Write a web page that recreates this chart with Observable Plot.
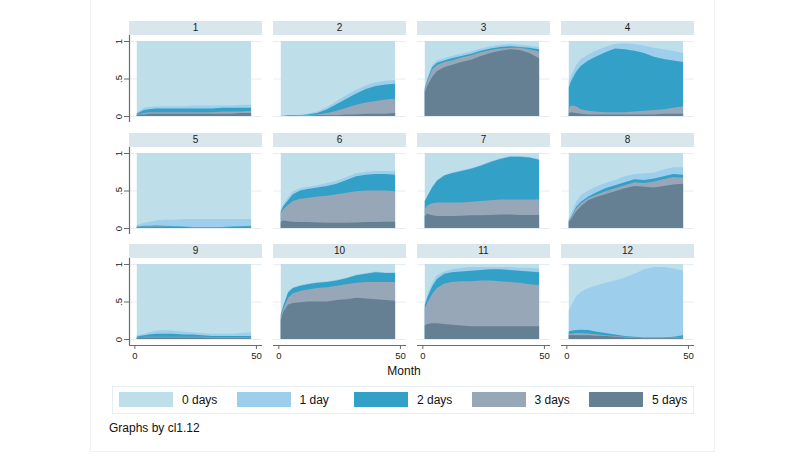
<!DOCTYPE html>
<html><head><meta charset="utf-8">
<script src="https://cdn.jsdelivr.net/npm/d3@7"></script>
<script src="https://cdn.jsdelivr.net/npm/@observablehq/plot@0.6"></script>
<style>
body{margin:0;background:#fff;font-family:"Liberation Sans",Arial,sans-serif;}
#root{position:relative;width:808px;height:455px;overflow:hidden;background:#fff;}
.strip{position:absolute;background:#d9e6ec;color:#1a1a1a;font-size:10px;text-align:center;line-height:14px;height:14px;width:133px;}
.panel{position:absolute;}
.txt{position:absolute;font-size:12px;color:#111;white-space:nowrap;}
.sw{position:absolute;width:54px;height:15px;}
</style></head><body><div id="root"></div>
<script>
// ---- data ----
const months = [1,2,4,6,9,12,16,20,24,28,32,36,40,44,48];
const panelLabels = ["1","2","3","4","5","6","7","8","9","10","11","12"];
const seriesNames = ["0 days","1 day","2 days","3 days","5 days"];
const seriesColors = ["#bedfe9","#9dcfec","#33a0c8","#97a7b7","#657f93"];
const xTicks = [0, 50];
const yTicks = [0, 0.5, 1];
const yTickLabels = ["0", ".5", "1"];
const xTitle = "Month";
const byNote = "Graphs by cl1.12";

// cumulative shares (top edge of each band), one row per panel, values at `months`
const top0 = [1,1,1,1,1,1,1,1,1,1,1,1,1,1,1];
const top1 = [
  [0.04,0.07,0.11,0.12,0.13,0.13,0.13,0.13,0.14,0.14,0.14,0.14,0.14,0.15,0.15],
  [0.01,0.01,0.01,0.01,0.02,0.03,0.06,0.12,0.20,0.28,0.35,0.41,0.45,0.47,0.48],
  [0.39,0.50,0.68,0.74,0.77,0.80,0.83,0.86,0.90,0.93,0.95,0.96,0.95,0.94,0.92],
  [0.46,0.55,0.68,0.76,0.82,0.87,0.92,0.96,0.97,0.96,0.94,0.91,0.89,0.87,0.84],
  [0.04,0.05,0.07,0.08,0.10,0.11,0.11,0.12,0.12,0.12,0.12,0.12,0.12,0.12,0.12],
  [0.25,0.32,0.41,0.49,0.53,0.55,0.57,0.60,0.63,0.68,0.73,0.75,0.76,0.76,0.76],
  [0.37,0.43,0.55,0.64,0.71,0.74,0.77,0.80,0.84,0.89,0.93,0.96,0.96,0.95,0.92],
  [0.12,0.20,0.35,0.44,0.50,0.55,0.60,0.64,0.69,0.72,0.73,0.74,0.78,0.81,0.81],
  [0.05,0.06,0.07,0.09,0.11,0.12,0.11,0.10,0.09,0.08,0.07,0.07,0.07,0.08,0.09],
  [0.33,0.45,0.64,0.69,0.72,0.74,0.76,0.77,0.79,0.82,0.86,0.88,0.90,0.89,0.89],
  [0.47,0.58,0.75,0.85,0.90,0.93,0.95,0.96,0.96,0.96,0.96,0.96,0.95,0.95,0.94],
  [0.38,0.45,0.57,0.63,0.68,0.71,0.75,0.78,0.82,0.87,0.93,0.96,0.96,0.94,0.91]
];
const top2 = [
  [0.03,0.05,0.08,0.09,0.10,0.10,0.10,0.10,0.10,0.10,0.10,0.11,0.11,0.11,0.11],
  [0.00,0.00,0.01,0.01,0.01,0.02,0.04,0.09,0.16,0.23,0.30,0.36,0.40,0.42,0.43],
  [0.37,0.48,0.65,0.71,0.74,0.77,0.80,0.83,0.87,0.90,0.92,0.93,0.92,0.91,0.89],
  [0.38,0.47,0.59,0.67,0.74,0.79,0.85,0.90,0.89,0.87,0.84,0.79,0.76,0.74,0.72],
  [0.02,0.02,0.03,0.03,0.035,0.03,0.025,0.02,0.015,0.01,0.01,0.015,0.02,0.025,0.03],
  [0.22,0.29,0.37,0.45,0.50,0.52,0.54,0.56,0.59,0.64,0.69,0.71,0.72,0.72,0.71],
  [0.36,0.42,0.54,0.63,0.70,0.73,0.76,0.79,0.83,0.88,0.92,0.95,0.95,0.94,0.91],
  [0.10,0.15,0.28,0.35,0.42,0.47,0.53,0.57,0.61,0.65,0.64,0.66,0.69,0.72,0.71],
  [0.03,0.04,0.05,0.06,0.07,0.07,0.07,0.06,0.06,0.05,0.04,0.04,0.04,0.04,0.04],
  [0.32,0.44,0.62,0.68,0.71,0.73,0.75,0.76,0.78,0.81,0.85,0.87,0.89,0.88,0.88],
  [0.45,0.55,0.70,0.80,0.87,0.89,0.90,0.91,0.92,0.93,0.93,0.92,0.91,0.90,0.89],
  [0.10,0.11,0.12,0.125,0.12,0.10,0.08,0.06,0.04,0.03,0.02,0.02,0.02,0.03,0.05]
];
const top3 = [
  [0.02,0.03,0.04,0.05,0.05,0.05,0.05,0.05,0.05,0.05,0.05,0.06,0.06,0.06,0.07],
  [0.00,0.00,0.00,0.00,0.01,0.01,0.02,0.04,0.07,0.11,0.15,0.18,0.20,0.22,0.23],
  [0.36,0.46,0.62,0.68,0.72,0.74,0.78,0.81,0.85,0.88,0.90,0.91,0.91,0.89,0.86],
  [0.11,0.14,0.13,0.09,0.07,0.06,0.05,0.05,0.05,0.06,0.07,0.08,0.09,0.11,0.13],
  [0.015,0.015,0.02,0.02,0.02,0.02,0.015,0.01,0.01,0.01,0.01,0.01,0.015,0.015,0.02],
  [0.20,0.25,0.31,0.36,0.39,0.40,0.42,0.43,0.45,0.47,0.49,0.50,0.50,0.50,0.49],
  [0.25,0.30,0.33,0.34,0.34,0.34,0.34,0.35,0.36,0.37,0.38,0.38,0.38,0.38,0.38],
  [0.10,0.14,0.26,0.33,0.40,0.44,0.49,0.53,0.57,0.61,0.60,0.62,0.65,0.68,0.67],
  [0.02,0.02,0.03,0.03,0.03,0.03,0.03,0.03,0.03,0.03,0.02,0.02,0.02,0.02,0.02],
  [0.29,0.40,0.55,0.61,0.64,0.66,0.68,0.69,0.71,0.73,0.75,0.76,0.76,0.76,0.76],
  [0.41,0.48,0.60,0.68,0.74,0.76,0.77,0.77,0.78,0.78,0.77,0.76,0.75,0.73,0.72],
  [0.07,0.07,0.08,0.08,0.075,0.065,0.05,0.04,0.03,0.02,0.015,0.015,0.015,0.02,0.02]
];
const top5 = [
  [0.01,0.02,0.02,0.03,0.03,0.03,0.03,0.03,0.03,0.03,0.03,0.03,0.03,0.04,0.04],
  [0.00,0.00,0.00,0.00,0.00,0.00,0.01,0.01,0.01,0.02,0.02,0.03,0.03,0.03,0.04],
  [0.32,0.40,0.52,0.60,0.65,0.68,0.72,0.75,0.80,0.84,0.87,0.89,0.88,0.84,0.77],
  [0.04,0.05,0.04,0.03,0.02,0.02,0.02,0.02,0.02,0.02,0.02,0.02,0.03,0.03,0.03],
  [0.01,0.01,0.01,0.01,0.01,0.01,0.01,0.01,0.005,0.005,0.005,0.005,0.01,0.01,0.01],
  [0.08,0.10,0.09,0.085,0.08,0.08,0.075,0.07,0.07,0.07,0.075,0.08,0.08,0.085,0.085],
  [0.16,0.19,0.17,0.16,0.16,0.16,0.165,0.17,0.17,0.175,0.18,0.18,0.175,0.175,0.175],
  [0.08,0.12,0.22,0.29,0.37,0.41,0.45,0.49,0.53,0.56,0.55,0.54,0.56,0.58,0.59],
  [0.01,0.02,0.02,0.02,0.02,0.02,0.02,0.02,0.02,0.02,0.01,0.01,0.01,0.01,0.01],
  [0.25,0.36,0.46,0.48,0.49,0.50,0.50,0.50,0.52,0.53,0.55,0.54,0.53,0.52,0.51],
  [0.18,0.20,0.21,0.21,0.20,0.19,0.18,0.17,0.17,0.17,0.17,0.17,0.17,0.17,0.17],
  [0.05,0.05,0.05,0.05,0.05,0.045,0.04,0.03,0.02,0.015,0.01,0.01,0.01,0.01,0.01]
];

// ---- layout ----
const root = document.getElementById("root");
const xDomain = [-2.2, 52.5];
const yDomain = [-0.08, 1.08];
const plotW = 133, plotH = 87;
const colLeft = [129, 273, 417, 561];
const rowTop = [35, 146.5, 258];

function el(cls, css, text) {
  const d = document.createElement("div");
  d.className = cls;
  Object.assign(d.style, css);
  if (text != null) d.textContent = text;
  root.appendChild(d);
  return d;
}

// outer graph region border
el("", {position:"absolute", left:"90px", top:"-1px", width:"625px", height:"453px", border:"1px solid #edf1f3", boxSizing:"border-box"});

const layers = [panelLabels.map(() => top0), top1, top2, top3, top5];

panelLabels.forEach((lab, i) => {
  const c = i % 4, r = Math.floor(i / 4);
  const mL = c === 0 ? 24 : 0;
  const mB = r === 2 ? 24 : 0;
  const marks = [Plot.gridY(yTicks, {stroke: "#e5eef1", strokeOpacity: 1})];
  layers.forEach((L, k) => {
    const rows = months.map((m, j) => ({month: m, v: L[i][j]}));
    marks.push(Plot.areaY(rows, {x: "month", y1: 0, y2: "v", fill: seriesColors[k], curve: "linear"}));
  });
  if (c === 0) {
    marks.push(Plot.ruleX([xDomain[0]], {stroke: "#6b6b6b", strokeWidth: 1.2}));
    marks.push(Plot.axisY(yTicks, {tickFormat: d => yTickLabels[yTicks.indexOf(d)], tickRotate: -90,
      textAnchor: "middle", lineAnchor: "bottom", label: null,
      tickSize: 5, tickPadding: 3, stroke: "#6b6b6b", fill: "#222", fontSize: 9.5}));
  }
  if (r === 2) {
    marks.push(Plot.ruleY([yDomain[0]], {stroke: "#6b6b6b", strokeWidth: 1.2}));
    marks.push(Plot.axisX(xTicks, {tickSize: 4, tickPadding: 3, label: null, stroke: "#6b6b6b", fill: "#222", fontSize: 9.5}));
  }
  const svg = Plot.plot({
    width: plotW + mL, height: plotH + mB,
    marginLeft: mL, marginRight: 0, marginTop: 0, marginBottom: mB,
    x: Object.assign({domain: xDomain}, r === 2 ? {} : {axis: null}),
    y: Object.assign({domain: yDomain}, c === 0 ? {} : {axis: null}),
    style: {fontFamily: "'Liberation Sans', Arial, sans-serif", fontSize: "9.5px", background: "transparent", overflow: "visible"},
    marks
  });
  svg.classList.add("panel");
  svg.style.position = "absolute";
  svg.style.left = (colLeft[c] - mL) + "px";
  svg.style.top = rowTop[r] + "px";
  root.appendChild(svg);
  el("strip", {left: colLeft[c] + "px", top: (rowTop[r] - 14) + "px"}, lab);
});

// x title
el("txt", {left: "404px", top: "364px", transform: "translateX(-50%)"}, xTitle);

// legend
el("", {position:"absolute", left:"112px", top:"386px", width:"582px", height:"28px", border:"1px solid #e6eef1", boxSizing:"border-box", background:"#fff"});
seriesNames.forEach((name, k) => {
  const x = 119 + 117.5 * k;
  el("sw", {left: x + "px", top: "392px", background: seriesColors[k]});
  el("txt", {left: (x + 63) + "px", top: "392px", lineHeight: "16px"}, name);
});
el("txt", {left: "109px", top: "420px", lineHeight: "16px"}, byNote);
</script></body></html>
